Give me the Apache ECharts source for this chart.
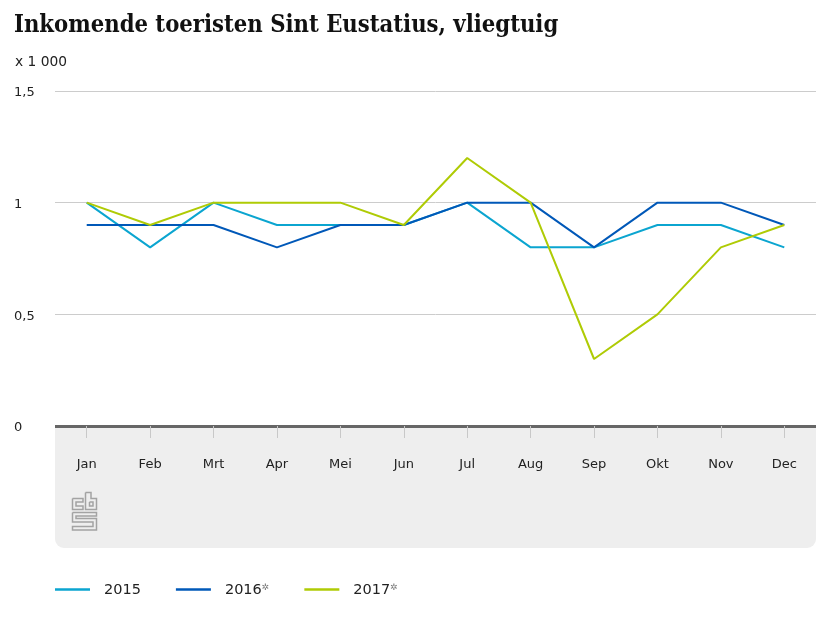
<!DOCTYPE html>
<html>
<head>
<meta charset="utf-8">
<style>html,body{margin:0;padding:0;background:#fff}#chart{width:830px;height:623px}</style>
<script src="https://cdn.jsdelivr.net/npm/echarts@6/dist/echarts.min.js"></script>
</head>
<body>
<div id="chart"></div>
<script>
var months = ['Jan','Feb','Mrt','Apr','Mei','Jun','Jul','Aug','Sep','Okt','Nov','Dec'];
var v2015 = [1,0.8,1,0.9,0.9,0.9,1,0.8,0.8,0.9,0.9,0.8];
var v2016 = [0.9,0.9,0.9,0.8,0.9,0.9,1,1,0.8,1,1,0.9];
var v2017 = [1,0.9,1,1,1,0.9,1.2,1,0.3,0.5,0.8,0.9];
var names = ['2015','2016*','2017*'];
var colors = ['#0ba5d0','#0058b8','#afcb05'];
var font = '"DejaVu Sans"';

function line(i, data){
	return {
		name: names[i],
		type: 'line',
		data: data,
		symbol: 'none',
		silent: true,
		lineStyle: {color: colors[i], width: 2},
		itemStyle: {color: colors[i]}
	};
}

var logoStyle = {fill: 'none', stroke: '#a3a3a3', lineWidth: 1.5};
function logo(points){
	return {type: 'polyline', shape: {points: points}, style: logoStyle, z: 3};
}

var myChart = echarts.init(document.getElementById('chart'), null, {renderer: 'canvas'});
myChart.setOption({
	animation: false,
	textStyle: {fontFamily: font},
	title: {
		text: 'Inkomende toeristen Sint Eustatius, vliegtuig',
		left: 14, top: 14,
		padding: 0,
		textStyle: {fontFamily: '"DejaVu Serif Condensed"', fontSize: 23.6, fontWeight: 'bold', color: '#111'}
	},
	legend: {
		left: 55, top: 583,
		padding: 0,
		icon: 'rect',
		itemWidth: 35, itemHeight: 2.5, itemGap: 35,
		selectedMode: false,
		data: names,
		formatter: function(n){
			return n.indexOf('*') > 0 ? '{t|' + n.replace('*','') + '}{s|\u2732}' : '{t|' + n + '}';
		},
		textStyle: {
			padding: [2,0,0,9],
			rich: {
				t: {fontFamily: font, fontSize: 14.5, color: '#222'},
				s: {fontFamily: font, fontSize: 9, color: '#777', verticalAlign: 'top', padding: [0,0,5,0]}
			}
		}
	},
	grid: {left: 55, right: 14, top: 91, height: 335},
	xAxis: {
		type: 'category',
		data: months,
		axisLine: {lineStyle: {color: '#666', width: 3, cap: 'butt'}},
		axisTick: {show: true, alignWithLabel: true, length: 12, lineStyle: {color: '#c8c8c8', width: 1}},
		axisLabel: {color: '#222', fontSize: 13, margin: 32}
	},
	yAxis: {
		type: 'value',
		min: 0, max: 1.5, interval: 0.5,
		axisLine: {show: false},
		axisTick: {show: false},
		splitLine: {lineStyle: {color: '#ccc', width: 1}},
		axisLabel: {
			color: '#222', fontSize: 13, align: 'left', margin: 41,
			verticalAlign: 'top', lineHeight: 4,
			formatter: function(v){ return String(v).replace('.', ','); }
		}
	},
	graphic: [
		{type: 'text', left: 15, top: 55, style: {text: 'x 1 000', fontFamily: font, fontSize: 13.8, fill: '#222'}},
		{type: 'rect', shape: {x: 55, y: 426, width: 761, height: 122, r: [0,0,9,9]}, style: {fill: '#eeeeee'}, z: -1},
		logo([[72.5,498.5],[83,498.5],[83,502],[76,502],[76,506],[83,506],[83,509.5],[72.5,509.5],[72.5,498.5]]),
		logo([[85.5,492.5],[91,492.5],[91,498.5],[96.5,498.5],[96.5,509.5],[85.5,509.5],[85.5,492.5]]),
		logo([[89.5,502],[93,502],[93,506],[89.5,506],[89.5,502]]),
		logo([[72.5,512.5],[96.5,512.5],[96.5,516],[76,516],[76,518.5],[96.5,518.5],[96.5,530],[72.5,530],[72.5,526.5],[93,526.5],[93,522],[72.5,522],[72.5,512.5]])
	],
	series: [line(0, v2015), line(1, v2016), line(2, v2017)]
});
</script>
</body>
</html>
